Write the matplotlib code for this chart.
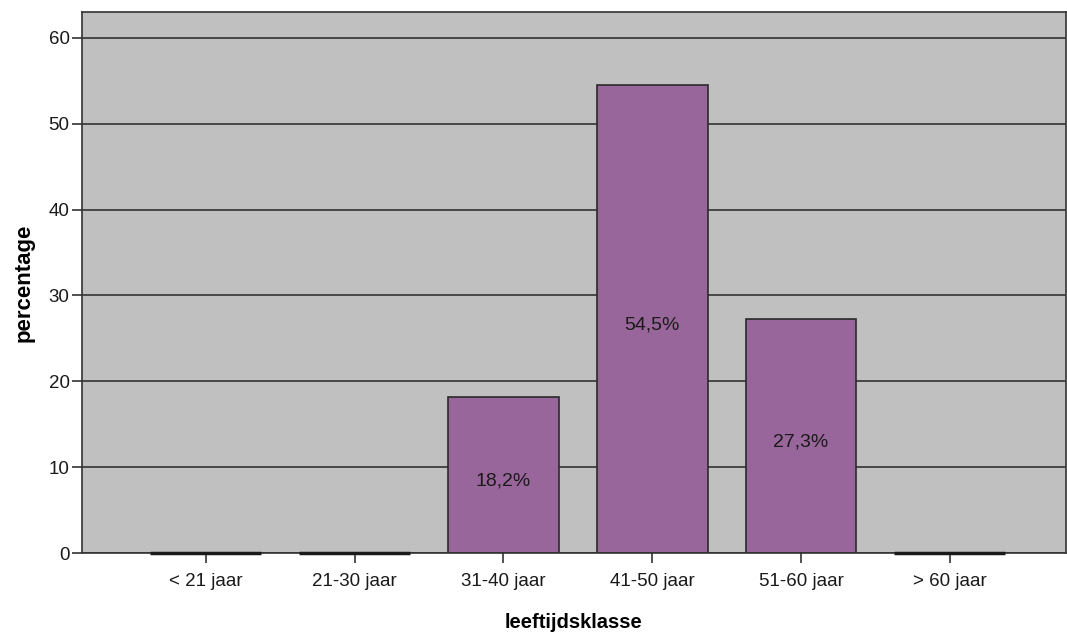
import matplotlib.pyplot as plt

plt.rcParams['font.family'] = ['Liberation Sans', 'DejaVu Sans']

categories = ['< 21 jaar', '21-30 jaar', '31-40 jaar', '41-50 jaar', '51-60 jaar', '> 60 jaar']
percentages = [0.0, 0.0, 18.2, 54.5, 27.3, 0.0]
bar_labels = ['', '', '18,2%', '54,5%', '27,3%', '']

fig = plt.figure(figsize=(10.67, 6.35), dpi=100)
ax = fig.add_axes([0.0769, 0.129, 0.922, 0.852])
ax.set_facecolor('#c0c0c0')

x = list(range(len(categories)))
ax.set_axisbelow(True)
ax.yaxis.grid(True, color='#333333', linewidth=1.2)
bars = ax.bar(x, percentages, width=0.745, color='#98669a', edgecolor='#2a2a2a', linewidth=1.2)

# zero-height bars show as a dark line on the baseline
for xi, v in zip(x, percentages):
    if v == 0:
        ax.plot([xi - 0.3725, xi + 0.3725], [0, 0], color='#1a1a1a', linewidth=2.5,
                solid_capstyle='butt', zorder=3, clip_on=False)

for rect, lab, v in zip(bars, bar_labels, percentages):
    if lab:
        ax.annotate(lab, (rect.get_x() + rect.get_width() / 2, v / 2), xytext=(0, -3),
                    textcoords='offset points', ha='center', va='center_baseline',
                    fontsize=14, color='#1a1a1a')

ax.set_xlim(-0.832, 5.78)
ax.set_ylim(0, 63.0)
ax.set_yticks([0, 10, 20, 30, 40, 50, 60])
ax.set_xticks(x)
ax.set_xticklabels(categories)
ax.tick_params(axis='both', labelsize=13.5, colors='#333333', length=7, width=1.2,
               labelcolor='#1a1a1a', pad=2)
ax.tick_params(axis='x', pad=7)

for side in ['left', 'bottom', 'top', 'right']:
    ax.spines[side].set_color('#333333')
    ax.spines[side].set_linewidth(1.2)

ax.set_ylabel('percentage', fontsize=16, fontweight='bold', labelpad=10)
ax.set_xlabel('leeftijdsklasse', fontsize=14.5, fontweight='bold', labelpad=17)

fig.savefig('out.png', dpi=100)
